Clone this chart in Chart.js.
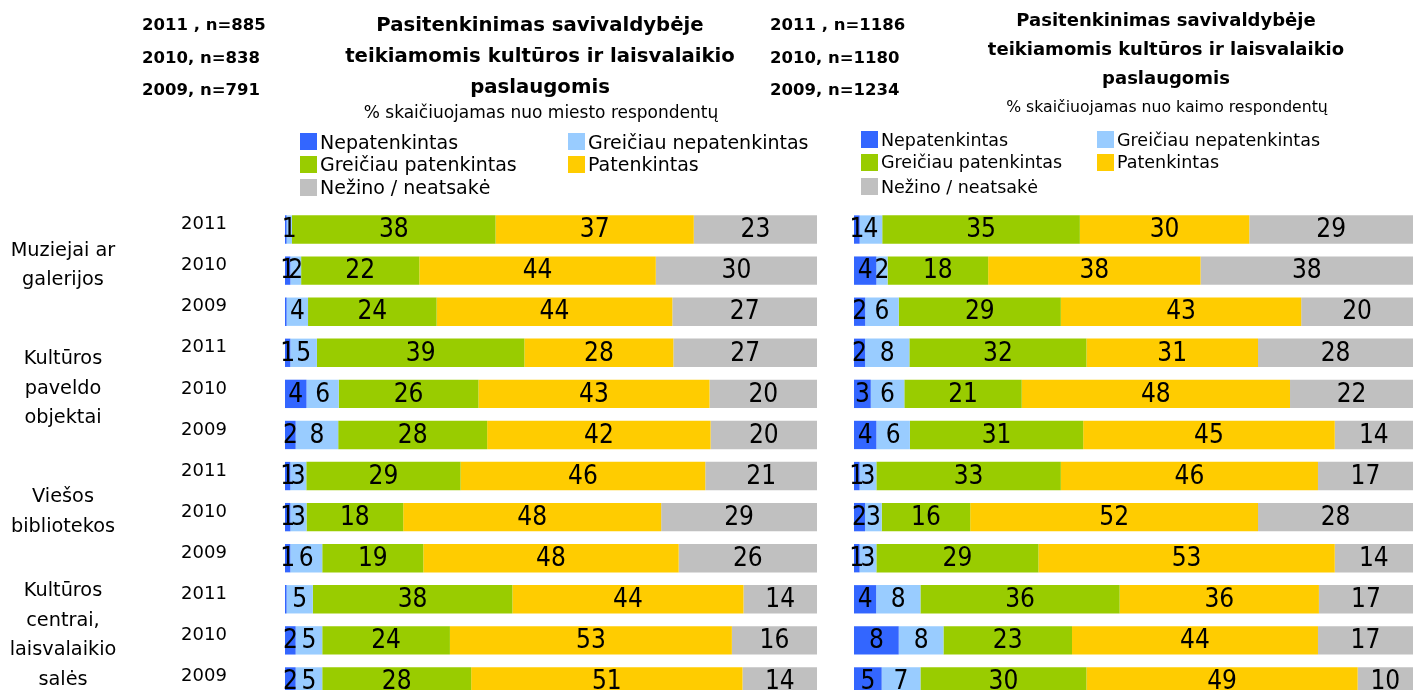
<!DOCTYPE html>
<html>
<head>
<meta charset="utf-8">
<script src="https://cdn.jsdelivr.net/npm/chart.js@4.4.1/dist/chart.umd.min.js"></script>
<style>
  html, body { margin: 0; padding: 0; background: #fff; overflow: hidden; }
  body { width: 1413px; height: 690px; position: relative; font-family: "DejaVu Sans", Verdana, sans-serif; color: #000; }
  .t { position: absolute; white-space: nowrap; }
  .n { font-weight: bold; font-size: 16.5px; line-height: 20px; }
  .ttl { font-weight: bold; text-align: center; transform: translateX(-50%); }
  .sub { text-align: center; transform: translateX(-50%); }
  .leg { position: absolute; white-space: nowrap; display: flex; align-items: center; }
  .leg span.box { display: inline-block; width: 17px; height: 17px; margin-right: 3px; }
  canvas { position: absolute; top: 0; }
</style>
</head>
<body>
<canvas id="city" width="840" height="702" style="left:0"></canvas>
<canvas id="village" width="573" height="702" style="left:840px"></canvas>

<script>
// kategorijos ir metai
const groups = [
  ["Muziejai ar", "galerijos"],
  ["Kultūros", "paveldo", "objektai"],
  ["Viešos", "bibliotekos"],
  ["Kultūros", "centrai,", "laisvalaikio", "salės"]
];
const rowYears = ["2011","2010","2009","2011","2010","2009","2011","2010","2009","2011","2010","2009"];

const seriesNames = ["Nepatenkintas", "Greičiau nepatenkintas", "Greičiau patenkintas", "Patenkintas", "Nežino / neatsakė"];
const seriesColors = ["#3366FF", "#99CCFF", "#99CC00", "#FFCC00", "#C0C0C0"];

const cityN = ["2011 , n=885", "2010, n=838", "2009, n=791"];
const villageN = ["2011 , n=1186", "2010, n=1180", "2009, n=1234"];

const titleLines = ["Pasitenkinimas savivaldybėje", "teikiamomis kultūros ir laisvalaikio", "paslaugomis"];
const citySubtitle = "% skaičiuojamas nuo miesto respondentų";
const villageSubtitle = "% skaičiuojamas nuo kaimo respondentų";

// miestas
const cityNepatenkintas      = [0.3, 1, 0.3, 1, 4, 2, 1, 1, 1, 0.3, 2, 2];
const cityGreiciauNepat      = [1, 2, 4, 5, 6, 8, 3, 3, 6, 5, 5, 5];
const cityGreiciauPat        = [38, 22, 24, 39, 26, 28, 29, 18, 19, 38, 24, 28];
const cityPatenkintas        = [37, 44, 44, 28, 43, 42, 46, 48, 48, 44, 53, 51];
const cityNezino             = [23, 30, 27, 27, 20, 20, 21, 29, 26, 14, 16, 14];

// kaimas
const villageNepatenkintas   = [1, 4, 2, 2, 3, 4, 1, 2, 1, 4, 8, 5];
const villageGreiciauNepat   = [4, 2, 6, 8, 6, 6, 3, 3, 3, 8, 8, 7];
const villageGreiciauPat     = [35, 18, 29, 32, 21, 31, 33, 16, 29, 36, 23, 30];
const villagePatenkintas     = [30, 38, 43, 31, 48, 45, 46, 52, 53, 36, 44, 49];
const villageNezino          = [29, 38, 20, 28, 22, 14, 17, 28, 14, 17, 17, 10];

const citySeries = [cityNepatenkintas, cityGreiciauNepat, cityGreiciauPat, cityPatenkintas, cityNezino];
const villageSeries = [villageNepatenkintas, villageGreiciauNepat, villageGreiciauPat, villagePatenkintas, villageNezino];

// tekstai viršuje
function addText(cls, text, left, top, size, extra) {
  const d = document.createElement("div");
  d.className = "t " + cls;
  d.textContent = text;
  d.style.left = left + "px";
  d.style.top = top + "px";
  if (size) d.style.fontSize = size + "px";
  if (extra) Object.assign(d.style, extra);
  document.body.appendChild(d);
  return d;
}

cityN.forEach((s, i) => addText("n", s, 142, 15 + i * 32.5));
villageN.forEach((s, i) => addText("n", s, 770, 15 + i * 32.5));

titleLines.forEach((s, i) => addText("ttl", s, 540, 13 + i * 31, 19.7, { lineHeight: "24px" }));
titleLines.forEach((s, i) => addText("ttl", s, 1166, 8 + i * 29, 18, { lineHeight: "24px" }));
addText("sub", citySubtitle, 541, 101, 17, { lineHeight: "22px" });
addText("sub", villageSubtitle, 1167, 96, 15.7, { lineHeight: "22px" });

function addLegend(x0, x1, ys, size) {
  seriesNames.forEach((name, i) => {
    const d = document.createElement("div");
    d.className = "leg";
    d.style.left = (i % 2 === 0 ? x0 : x1) + "px";
    d.style.top = (ys[Math.floor(i / 2)] - 12) + "px";
    d.style.height = "24px";
    d.style.fontSize = size + "px";
    const box = document.createElement("span");
    box.className = "box";
    box.style.background = seriesColors[i];
    d.appendChild(box);
    d.appendChild(document.createTextNode(name));
    document.body.appendChild(d);
  });
}
addLegend(300, 568, [141.5, 164, 187], 19);
addLegend(861, 1097, [139.5, 162, 186.5], 17.5);

// reikšmių etiketės
const valueLabels = {
  id: "valueLabels",
  afterDatasetsDraw(chart) {
    const ctx = chart.ctx;
    ctx.save();
    ctx.font = '26px "DejaVu Sans Condensed", "DejaVu Sans", sans-serif';
    ctx.fillStyle = "#000";
    ctx.textAlign = "center";
    ctx.textBaseline = "middle";
    chart.data.datasets.forEach((ds, di) => {
      const meta = chart.getDatasetMeta(di);
      meta.data.forEach((el, i) => {
        const v = Math.round(ds.raw[i]);
        if (v < 1) return;
        ctx.fillText(String(v), (el.x + el.base) / 2, el.y + 1);
      });
    });
    ctx.restore();
  }
};

// metai ir kategorijos kairėje
const sideLabels = {
  id: "sideLabels",
  afterDraw(chart, args, opts) {
    if (!opts.show) return;
    const ctx = chart.ctx;
    const y = chart.scales.y;
    ctx.save();
    ctx.fillStyle = "#000";
    ctx.textAlign = "center";
    ctx.textBaseline = "middle";
    ctx.font = '18px "DejaVu Sans", sans-serif';
    rowYears.forEach((yr, i) => {
      ctx.fillText(yr, 204, y.getPixelForValue(i) - 5);
    });
    ctx.font = '19.3px "DejaVu Sans", sans-serif';
    groups.forEach((lines, g) => {
      const mid = y.getPixelForValue(g * 3 + 1) - 5;
      const lh = 29.5;
      lines.forEach((ln, k) => {
        ctx.fillText(ln, 63, mid + (k - (lines.length - 1) / 2) * lh);
      });
    });
    ctx.restore();
  }
};

function makeChart(id, series, padLeft, padRight, showSide) {
  const totals = rowYears.map((_, i) => series.reduce((s, arr) => s + arr[i], 0));
  const datasets = series.map((arr, k) => ({
    label: seriesNames[k],
    data: arr.map((v, i) => v / totals[i] * 100),
    raw: arr,
    backgroundColor: seriesColors[k],
    borderWidth: 0,
    barPercentage: 0.69,
    categoryPercentage: 1
  }));
  return new Chart(document.getElementById(id).getContext("2d"), {
    type: "bar",
    data: { labels: rowYears.map((y, i) => i), datasets },
    options: {
      indexAxis: "y",
      responsive: false,
      animation: false,
      layout: { padding: { left: padLeft, right: padRight, top: 209, bottom: 0 } },
      scales: {
        x: { stacked: true, min: 0, max: 100, display: false },
        y: { stacked: true, display: false }
      },
      plugins: {
        legend: { display: false },
        tooltip: { enabled: false },
        sideLabels: { show: showSide }
      }
    },
    plugins: [valueLabels, sideLabels]
  });
}

makeChart("city", citySeries, 285, 23, true);
makeChart("village", villageSeries, 14, 0, false);
</script>
</body>
</html>
